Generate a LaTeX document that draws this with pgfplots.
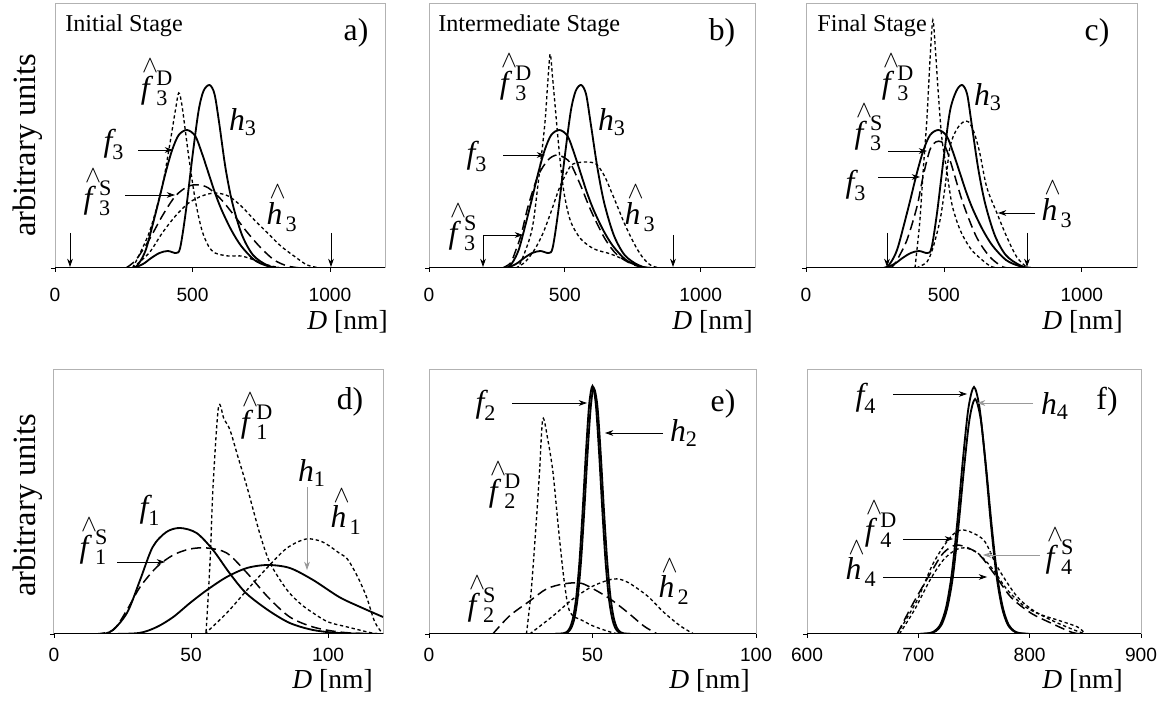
\documentclass[border=0pt]{standalone}
\usepackage{fontspec}
\setmainfont{Liberation Serif}
\newfontfamily\tickfont{Liberation Sans}
\usepackage{amsmath}
\usepackage{graphicx}
\usepackage{pgfplots}
\pgfplotsset{compat=1.18}
\usetikzlibrary{arrows.meta}

\newcommand{\lf}{\fontsize{19}{19}\selectfont}
\newcommand{\hatbox}[1]{\hbox{\ooalign{\textit{#1}\cr\hidewidth\raisebox{0.8em}{\kern0.2em$\scriptstyle\wedge$}\hidewidth\cr}\kern0.1em}}
\newcommand{\HL}[3]{$\mathord{\hatbox{#1}}_{\text{#2}}^{\text{#3}}$}
\newcommand{\PL}[2]{$\text{\itshape #1}_{\text{#2}}$}
\newcommand{\DN}{\fontsize{16.5}{17}\selectfont\textit{D} [nm]}

\pgfplotsset{
  panel/.style={scale only axis, anchor=south west, ymin=0, ymax=264, height=158.4pt,
    ytick={0}, yticklabels={}, xtick pos=bottom, ytick pos=left,
    tick align=outside, major tick length=2.4pt, tick style={black, line width=0.5pt},
    axis line style={gray!60, line width=0.6pt},
    xticklabel style={font=\tickfont\fontsize{11.5}{12}\selectfont, anchor=base},
    /pgf/number format/assume math mode=true, /pgf/number format/1000 sep={}},
  toprow/.style={xticklabel style={yshift=-17.6pt}},
  botrow/.style={xticklabel style={yshift=-14pt}},
  solidc/.style={black, line width=1.1pt, smooth, tension=0.5, no markers},
  dotc/.style={black, line width=0.8pt, dash pattern=on 2pt off 1.6pt, smooth, tension=0.5, no markers},
  dashc/.style={black, line width=0.9pt, dash pattern=on 6pt off 3pt, smooth, tension=0.5, no markers},
}
\tikzset{arr/.style={-{Stealth[length=5pt,width=3.5pt]}, line width=0.5pt},
         garr/.style={arr, draw=gray!80}}

\begin{document}
\begin{tikzpicture}
\path[use as bounding box] (0pt,0pt) rectangle (702pt,423pt);

% ---------------- panel a
\begin{axis}[panel, toprow, at={(33pt,262.2pt)}, width=198pt, xmin=0, xmax=1200, xtick={0,500,1000}]
\addplot[solidc] coordinates {(200,0) (282,0) (306,5) (330,18) (354,42) (378,68) (402,95) (426,118) (450,133) (480,138) (510,132) (534,115) (558,95) (582,75) (606,58) (641,38) (677,22) (725,8) (773,2) (821,0) (1000,0)};
\addplot[solidc] coordinates {(200,0) (280,0) (320,4) (350,10) (380,15) (410,17) (440,15) (455,20) (475,55) (500,112) (522,157) (540,177) (562,183) (580,174) (597,145) (620,100) (645,65) (680,33) (720,13) (770,3) (820,0) (1000,0)};
\addplot[dotc] coordinates {(282,0) (342,35) (390,82) (414,118) (438,158) (450,175) (462,162) (486,112) (510,68) (534,38) (558,22) (582,15) (630,12) (677,12) (725,8) (773,3) (821,0)};
\addplot[dashc] coordinates {(258,0) (294,8) (342,28) (390,52) (438,72) (486,82) (522,83) (558,80) (606,68) (653,52) (701,35) (749,20) (797,8) (845,2) (893,0)};
\addplot[dotc] coordinates {(282,0) (342,15) (390,35) (438,52) (486,65) (534,72) (582,75) (630,72) (677,62) (725,48) (773,35) (821,22) (869,12) (917,3) (965,0)};
\draw[black, line width=1pt] (rel axis cs:0,0) -- (rel axis cs:1,0);
\end{axis}

% ---------------- panel b
\begin{axis}[panel, toprow, at={(257.4pt,262.2pt)}, width=195.6pt, xmin=0, xmax=1200, xtick={0,500,1000}]
\addplot[solidc] coordinates {(200,0) (282,0) (306,5) (330,18) (354,42) (378,68) (402,95) (426,118) (450,133) (480,138) (510,132) (534,115) (558,95) (582,75) (606,58) (641,38) (677,22) (725,8) (773,2) (821,0) (1000,0)};
\addplot[solidc] coordinates {(200,0) (280,0) (320,4) (350,10) (380,15) (410,17) (440,15) (455,20) (475,55) (500,112) (522,157) (540,177) (560,183) (578,174) (595,145) (620,100) (645,65) (680,33) (720,13) (770,3) (820,0) (1000,0)};
\addplot[dotc] coordinates {(300,0) (329,1) (377,36) (401,83) (426,143) (437,185) (446,214) (455,190) (463,166) (474,132) (486,99) (499,72) (522,46) (559,29) (608,19) (669,14) (730,7) (779,1) (820,0)};
\addplot[dashc] coordinates {(270,0) (300,5) (320,18) (340,34) (365,62) (401,92) (438,108) (470,113) (500,110) (522,104) (559,82) (595,58) (646,30) (693,13) (755,3) (820,0) (900,0)};
\addplot[dotc] coordinates {(320,0) (354,6) (390,19) (420,35) (449,56) (480,80) (510,97) (530,104) (575,106) (615,104) (646,92) (670,77) (693,62) (717,46) (741,32) (766,19) (791,9) (815,3) (840,0.5) (870,0)};
\draw[black, line width=1pt] (rel axis cs:0,0) -- (rel axis cs:1,0);
\end{axis}

% ---------------- panel c
\begin{axis}[panel, toprow, at={(483.6pt,262.2pt)}, width=198.6pt, xmin=0, xmax=1200, xtick={0,500,1000}]
\addplot[solidc] coordinates {(200,0) (282,0) (306,5) (330,18) (354,42) (378,68) (402,95) (426,118) (450,133) (480,138) (510,132) (534,115) (558,95) (582,75) (606,58) (641,38) (677,22) (725,8) (773,2) (821,0) (1000,0)};
\addplot[solidc] coordinates {(200,0) (280,0) (320,4) (350,10) (380,15) (410,17) (440,15) (455,20) (475,55) (500,112) (522,157) (545,177) (566,183) (584,174) (600,145) (624,100) (649,65) (684,33) (724,13) (774,3) (820,0) (1000,0)};
\addplot[dotc] coordinates {(395,0) (401,15) (413,48) (425,98) (438,148) (450,210) (460,248) (470,215) (478,181) (492,131) (510,98) (528,65) (549,45) (569,32) (595,20) (618,13) (667,2) (700,0)};
\addplot[dashc] coordinates {(300,0) (312,1) (330,8) (366,28) (402,61) (424,91) (449,118) (470,126) (492,126) (510,118) (533,98) (569,65) (618,31) (667,11) (714,1) (740,0)};
\addplot[dotc] coordinates {(400,0) (438,6) (460,20) (486,48) (504,81) (522,121) (545,138) (570,146) (590,146) (610,135) (630,115) (655,81) (692,55) (728,31) (764,11) (800,1) (820,0)};
\draw[black, line width=1pt] (rel axis cs:0,0) -- (rel axis cs:1,0);
\end{axis}

% ---------------- panel d
\begin{axis}[panel, botrow, at={(32.4pt,42.6pt)}, width=197.4pt, xmin=0, xmax=120, xtick={0,50,100}]
\addplot[solidc] coordinates {(0,0) (13,0) (20.4,2) (26.6,21) (31.4,54) (36,87) (41,102) (46,106) (52,101) (58,84) (64,61) (70,41) (78,24) (86,11) (94.5,4) (104,1) (120,0)};
\addplot[solidc] coordinates {(20,0) (31,1) (37.5,7) (43.5,17) (49.6,31) (55.8,44) (63,57) (70.4,66) (78,69) (86,66) (94.5,54) (104,37) (111.7,27) (120,17)};
\addplot[dashc] coordinates {(15,0) (21.6,4) (26.6,24) (31.4,47) (37.5,67) (43.5,79) (49.6,85) (55.8,86) (63,81) (70.4,61) (78,37) (86,17) (94.5,7) (104,2) (115,0)};
\addplot[dotc, smooth=false] coordinates {(55,0) (55.5,4) (57,77) (58,147) (60,227) (62,215) (64.2,204) (67,178) (70.4,147) (75,101) (78.8,71) (85,44) (90,30) (94.5,21) (100,12) (107,7) (116,1) (120,0)};
\addplot[dotc] coordinates {(55,0) (63,21) (70.4,44) (78,67) (85,86) (92,95) (98,92) (104,81) (107,75) (110.6,58) (114,37) (117,12) (120,0)};
\draw[black, line width=1pt] (rel axis cs:0,0) -- (rel axis cs:1,0);
\end{axis}

% ---------------- panel e
\begin{axis}[panel, botrow, at={(257.4pt,42.6pt)}, width=196.2pt, xmin=0, xmax=100, xtick={0,50,100}]
\addplot[solidc] coordinates {(38,0) (41,0.5) (42,1.8) (43,5.7) (44,15.6) (45,36) (46,72) (47,124) (48,182) (49,230) (50,248) (51,230) (52,182) (53,124) (54,72) (55,36) (56,15.6) (57,5.7) (58,1.8) (59,0.5) (62,0)};
\addplot[solidc] coordinates {(38,0) (41.5,0.6) (42.5,2) (43.5,6) (44.5,16) (45.5,37) (46.5,73) (47.5,124) (48.5,181) (49.5,228) (50.4,246) (51.5,228) (52.5,181) (53.5,124) (54.5,73) (55.5,37) (56.5,16) (57.5,6) (58.5,2) (59.5,0.6) (62,0)};
\addplot[dotc] coordinates {(29.8,0) (31.3,45) (32.8,112) (33.8,162) (34.8,215) (36.3,195) (37.9,162) (39.4,112) (41,62) (42.5,28) (44,18) (46,15) (50.2,8) (55.4,2) (58,0)};
\addplot[dashc] coordinates {(19.5,0) (24.6,18) (30.8,33) (35.9,45) (41,50) (46.2,51) (50.3,45) (55.4,35) (60.6,22) (65.7,8) (69.8,0)};
\addplot[dotc] coordinates {(30.8,0) (37.9,18) (44,35) (50.2,48) (56.4,55) (60.6,52) (66.8,38) (71.7,22) (76.9,8) (81,0)};
\draw[black, line width=1pt] (rel axis cs:0,0) -- (rel axis cs:1,0);
\end{axis}

% ---------------- panel f
\begin{axis}[panel, botrow, at={(484.2pt,42.6pt)}, width=200.4pt, xmin=600, xmax=900, xtick={600,700,800,900}]
\addplot[solidc] coordinates {(700,0) (710,0.9) (715,3.3) (720,10) (725,27) (730,60) (735,112) (740,174) (745,226) (750,247) (755,226) (760,174) (765,112) (770,60) (775,27) (780,10) (785,3.3) (790,0.9) (800,0)};
\addplot[solidc] coordinates {(701,0) (711,0.9) (716,3.1) (721,9.5) (726,26) (731,57) (736,107) (741,165) (746,215) (751,235) (756,215) (761,165) (766,107) (771,57) (776,26) (781,9.5) (786,3.1) (791,0.9) (801,0)};
\addplot[dotc] coordinates {(681,0) (699,34) (713.5,71) (729,97) (740.5,104) (758.6,94) (771,67) (789,37) (807,21) (825,14) (843,7) (850,0)};
\addplot[dashc] coordinates {(681,0) (695.5,31) (711,61) (722.5,81) (735,89) (753,81) (767.6,61) (783,37) (801,21) (819,11) (837,2) (846,0)};
\addplot[dotc] coordinates {(683,0) (697,25) (711,55) (724,76) (738,86) (752,82) (766,66) (780,44) (795,28) (810,19) (825,11) (840,4) (850,0)};
\draw[black, line width=1pt] (rel axis cs:0,0) -- (rel axis cs:1,0);
\end{axis}

% ---------------- annotations in pixel coordinates
\begin{scope}[shift={(0pt,423pt)}, x=0.6pt, y=-0.6pt]
\node[rotate=90, font=\fontsize{19.5}{20}\selectfont] at (28,145) {arbitrary units};
\node[rotate=90, font=\fontsize{19.5}{20}\selectfont] at (28,505) {arbitrary units};
\foreach \xx/\yy in {388/330, 753/330, 1123/330, 373/688, 750/688, 1123/688}
  \node[anchor=base east, inner sep=0pt] at (\xx,\yy) {\DN};
% titles
\node[anchor=base west, inner sep=0pt, font=\fontsize{14.5}{15}\selectfont] at (65,32) {Initial Stage};
\node[anchor=base west, inner sep=0pt, font=\fontsize{14.5}{15}\selectfont] at (438,32) {Intermediate Stage};
\node[anchor=base west, inner sep=0pt, font=\fontsize{14.5}{15}\selectfont] at (817,32) {Final Stage};
\foreach \xx/\yy/\tt in {356/33/a), 722/33/b), 1097/33/c), 350/402/d), 723/404/e), 1107/402/f)}
  \node[inner sep=0pt, font=\fontsize{19}{19}\selectfont] at (\xx,\yy) {\tt};
% panel a labels
\node[inner sep=0pt, font=\lf] at (157,88) {\HL{f}{3}{D}};
\node[inner sep=0pt, font=\lf] at (243,122) {\PL{h}{3}};
\node[inner sep=0pt, font=\lf] at (114,144) {\PL{f}{3}};
\node[inner sep=0pt, font=\lf] at (98,198) {\HL{f}{3}{S}};
\node[inner sep=0pt, font=\lf] at (282,217) {\HL{h}{3}{}};
\draw[arr] (138,150) -- (173,150);
\draw[arr] (125,195) -- (175,195);
\draw[arr] (70,233) -- (70,267);
\draw[arr] (331,233) -- (331,267);
% panel b labels
\node[inner sep=0pt, font=\lf] at (516,83) {\HL{f}{3}{D}};
\node[inner sep=0pt, font=\lf] at (612,122) {\PL{h}{3}};
\node[inner sep=0pt, font=\lf] at (477,156) {\PL{f}{3}};
\node[inner sep=0pt, font=\lf] at (463,233) {\HL{f}{3}{S}};
\node[inner sep=0pt, font=\lf] at (640,217) {\HL{h}{3}{}};
\draw[arr] (503,155) -- (545,155);
\draw[arr] (483,235) -- (523,235);
\draw[arr] (483,235) -- (483,267);
\draw[arr] (673,235) -- (673,267);
% panel c labels
\node[inner sep=0pt, font=\lf] at (898,83) {\HL{f}{3}{D}};
\node[inner sep=0pt, font=\lf] at (988,97) {\PL{h}{3}};
\node[inner sep=0pt, font=\lf] at (869,133) {\HL{f}{3}{S}};
\node[inner sep=0pt, font=\lf] at (856,185) {\PL{f}{3}};
\node[inner sep=0pt, font=\lf] at (1057,213) {\HL{h}{3}{}};
\draw[arr] (888,151) -- (927,151);
\draw[arr] (878,177) -- (920,177);
\draw[arr] (1035,213) -- (998,213);
\draw[arr] (887,233) -- (887,267);
\draw[arr] (1027,233) -- (1027,267);
% panel d labels
\node[inner sep=0pt, font=\lf] at (257,422) {\HL{f}{1}{D}};
\node[inner sep=0pt, font=\lf] at (312,473) {\PL{h}{1}};
\node[inner sep=0pt, font=\lf] at (346,520) {\HL{h}{1}{}};
\node[inner sep=0pt, font=\lf] at (150,510) {\PL{f}{1}};
\node[inner sep=0pt, font=\lf] at (94,547) {\HL{f}{1}{S}};
\draw[arr] (117,562) -- (165,562);
\draw[garr] (307,487) -- (307,570);
% panel e labels
\node[inner sep=0pt, font=\lf] at (486,405) {\PL{f}{2}};
\node[inner sep=0pt, font=\lf] at (684,433) {\PL{h}{2}};
\node[inner sep=0pt, font=\lf] at (505,491) {\HL{f}{2}{D}};
\node[inner sep=0pt, font=\lf] at (482,605) {\HL{f}{2}{S}};
\node[inner sep=0pt, font=\lf] at (674,590) {\HL{h}{2}{}};
\draw[arr] (512,403) -- (587,403);
\draw[arr] (663,433) -- (605,433);
% panel f labels
\node[inner sep=0pt, font=\lf] at (866,398) {\PL{f}{4}};
\node[inner sep=0pt, font=\lf] at (1055,406) {\PL{h}{4}};
\node[inner sep=0pt, font=\lf] at (881,530) {\HL{f}{4}{D}};
\node[inner sep=0pt, font=\lf] at (861,572) {\HL{h}{4}{}};
\node[inner sep=0pt, font=\lf] at (1060,557) {\HL{f}{4}{S}};
\draw[arr] (893,394) -- (967,394);
\draw[garr] (1033,403) -- (977,403);
\draw[arr] (903,539) -- (953,539);
\draw[arr] (883,577) -- (987,577);
\draw[garr] (1040,555) -- (983,555);
\end{scope}
\end{tikzpicture}
\end{document}
